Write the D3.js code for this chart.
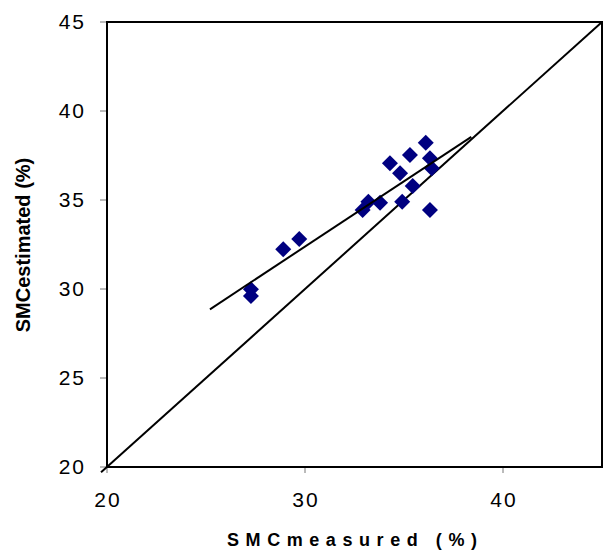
<!DOCTYPE html>
<html>
<head>
<meta charset="utf-8">
<script src="https://cdn.jsdelivr.net/npm/d3@7"></script>
<style>
  body { margin: 0; background: #fff; }
  svg { font-family: "Liberation Sans", Arial, sans-serif; }
</style>
</head>
<body>
<div id="chart"></div>
<script>
// measured vs estimated soil moisture content (%)
var measured  = [36.10, 35.30, 34.29, 36.31, 36.40, 34.80, 35.44, 33.20, 33.79, 32.91, 34.91, 36.31, 29.71, 28.90, 27.27, 27.27];
var estimated = [38.22, 37.53, 37.06, 37.34, 36.78, 36.50, 35.79, 34.90, 34.85, 34.44, 34.90, 34.44, 32.81, 32.23, 29.98, 29.60];
var fitX = [25.2, 38.4];
var fitY = [28.86, 38.55];
var oneX = [19.7, 45];
var xTicks = [20, 30, 40];
var yTicks = [20, 25, 30, 35, 40, 45];

var width = 607, height = 553;
var margin = {top: 22, right: 5, bottom: 86, left: 107};

var svg = d3.select('#chart').append('svg')
  .attr('width', width)
  .attr('height', height);

var x = d3.scaleLinear().domain([20, 45]).range([margin.left, width - margin.right]);
var y = d3.scaleLinear().domain([20, 45]).range([height - margin.bottom, margin.top]);

// ticks
svg.selectAll('.ytick').data(yTicks).enter().append('line')
  .attr('x1', x(20) - 7).attr('x2', x(20))
  .attr('y1', function (d) { return y(d); })
  .attr('y2', function (d) { return y(d); })
  .attr('stroke', '#777').attr('stroke-width', 1);

svg.selectAll('.xtick').data(xTicks).enter().append('line')
  .attr('x1', function (d) { return x(d); })
  .attr('x2', function (d) { return x(d); })
  .attr('y1', y(20)).attr('y2', y(20) + 6)
  .attr('stroke', '#777').attr('stroke-width', 1);

// tick labels
svg.selectAll('.ylab').data(yTicks).enter().append('text')
  .attr('x', x(20) - 21)
  .attr('y', function (d) { return y(d) + 7; })
  .attr('text-anchor', 'end')
  .attr('font-size', 21)
  .attr('letter-spacing', 2)
  .text(function (d) { return d; });

svg.selectAll('.xlab').data(xTicks).enter().append('text')
  .attr('x', function (d) { return x(d) + 1; })
  .attr('y', y(20) + 40)
  .attr('text-anchor', 'middle')
  .attr('font-size', 21)
  .attr('letter-spacing', 2)
  .text(function (d) { return d; });

// frame
svg.append('rect')
  .attr('x', x(20)).attr('y', y(45))
  .attr('width', x(45) - x(20)).attr('height', y(20) - y(45))
  .attr('fill', 'none').attr('stroke', '#000').attr('stroke-width', 2);

// 1:1 line
var line = d3.line()
  .x(function (d) { return x(d[0]); })
  .y(function (d) { return y(d[1]); });

svg.append('path')
  .attr('d', line(oneX.map(function (v) { return [v, v]; })))
  .attr('stroke', '#000').attr('stroke-width', 2).attr('fill', 'none');

// points
var diamond = d3.symbol().type(d3.symbolSquare).size(128);
svg.selectAll('.pt').data(measured).enter().append('path')
  .attr('d', diamond)
  .attr('transform', function (d, i) {
    return 'translate(' + x(d) + ',' + y(estimated[i]) + ') rotate(45)';
  })
  .attr('fill', '#000080');

// fitted line
svg.append('path')
  .attr('d', line(fitX.map(function (v, i) { return [v, fitY[i]]; })))
  .attr('stroke', '#000').attr('stroke-width', 2).attr('fill', 'none');

// axis titles
svg.append('text')
  .attr('x', 352).attr('y', 546)
  .attr('text-anchor', 'middle')
  .attr('font-size', 18).attr('font-weight', 'bold')
  .attr('textLength', 250).attr('lengthAdjust', 'spacing')
  .text('SMCmeasured (%)');

svg.append('text')
  .attr('transform', 'translate(30,245) rotate(-90)')
  .attr('text-anchor', 'middle')
  .attr('font-size', 20).attr('font-weight', 'bold')
  .text('SMCestimated (%)');
</script>
</body>
</html>
